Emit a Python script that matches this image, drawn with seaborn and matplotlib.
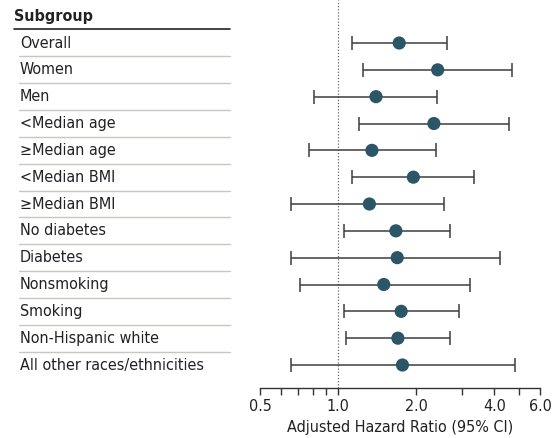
import numpy as np
import matplotlib
matplotlib.use('Agg')
import matplotlib.pyplot as plt
import matplotlib.transforms as mtransforms
from matplotlib.lines import Line2D
from matplotlib.ticker import FixedLocator, NullFormatter
import seaborn as sns

subgroups = ['Overall', 'Women', 'Men', '<Median age', '≥Median age',
             '<Median BMI', '≥Median BMI', 'No diabetes', 'Diabetes',
             'Nonsmoking', 'Smoking', 'Non-Hispanic white',
             'All other races/ethnicities']
hr = [1.72, 2.42, 1.40, 2.34, 1.35, 1.95, 1.32, 1.67, 1.69, 1.50, 1.75, 1.70, 1.77]
ci_low = [1.13, 1.25, 0.81, 1.20, 0.77, 1.13, 0.66, 1.05, 0.66, 0.71, 1.05, 1.07, 0.66]
ci_high = [2.63, 4.67, 2.40, 4.54, 2.39, 3.35, 2.56, 2.70, 4.22, 3.23, 2.93, 2.71, 4.81]
major_ticks = [0.5, 1.0, 2.0, 4.0, 6.0]
minor_ticks = [0.6, 0.7, 0.8, 0.9, 3.0, 5.0]

sns.set_style('white')
plt.rcParams['font.family'] = ['DejaVu Sans']
plt.rcParams['font.stretch'] = 'condensed'

W, H = 557, 438
fig = plt.figure(figsize=(W / 100, H / 100), dpi=100)
ax = fig.add_axes([260 / W, (H - 388) / H, (540 - 260) / W, 388 / H])

ypos = np.arange(len(subgroups))
hr_a = np.array(hr)
err = np.vstack([hr_a - np.array(ci_low), np.array(ci_high) - hr_a])

ax.errorbar(hr, ypos, xerr=err, fmt='none', ecolor='#3d3d3d', elinewidth=1.1,
            capsize=4.7, capthick=1.1, zorder=2)
sns.scatterplot(x=hr, y=ypos, ax=ax, color='#2b5667', s=90, edgecolor='none',
                zorder=3, legend=False)
ax.axvline(1.0, color='#666666', linestyle=(0, (1, 1.5)), linewidth=0.9, zorder=1)

ax.set_xscale('log')
ax.set_xlim(0.5, 6.0)
ax.set_ylim(12.857, -1.603)
ax.xaxis.set_major_locator(FixedLocator(major_ticks))
ax.xaxis.set_minor_locator(FixedLocator(minor_ticks))
ax.set_xticklabels([f'{t:.1f}' for t in major_ticks])
ax.xaxis.set_minor_formatter(NullFormatter())
ax.tick_params(axis='x', which='both', direction='out', length=5, width=1,
               color='#333333', labelsize=11.5, labelcolor='#222222', pad=3,
               bottom=True)
ax.set_yticks([])
for s in ['top', 'right', 'left']:
    ax.spines[s].set_visible(False)
ax.spines['bottom'].set_color('#333333')
ax.spines['bottom'].set_linewidth(1)
ax.set_xlabel('Adjusted Hazard Ratio (95% CI)', fontsize=11.5, color='#222222', labelpad=4)
ax.set_ylabel('')

# left-hand table
trans = mtransforms.blended_transform_factory(fig.transFigure, ax.transData)
ax.text(14 / W, -1.0, 'Subgroup', transform=trans, fontsize=11.5, fontweight='bold',
        color='#222222', va='center', ha='left')
fig.add_artist(Line2D([14 / W, 230 / W], [-0.52, -0.52], transform=trans,
                      color='#222222', linewidth=1.2))
for i, name in enumerate(subgroups):
    ax.text(20 / W, i, name, transform=trans, fontsize=11.5, color='#222222',
            va='center', ha='left')
    if i < len(subgroups) - 1:
        fig.add_artist(Line2D([19 / W, 230 / W], [i + 0.5, i + 0.5], transform=trans,
                              color='#c8c6c0', linewidth=1))

fig.savefig('out.png', dpi=100)
